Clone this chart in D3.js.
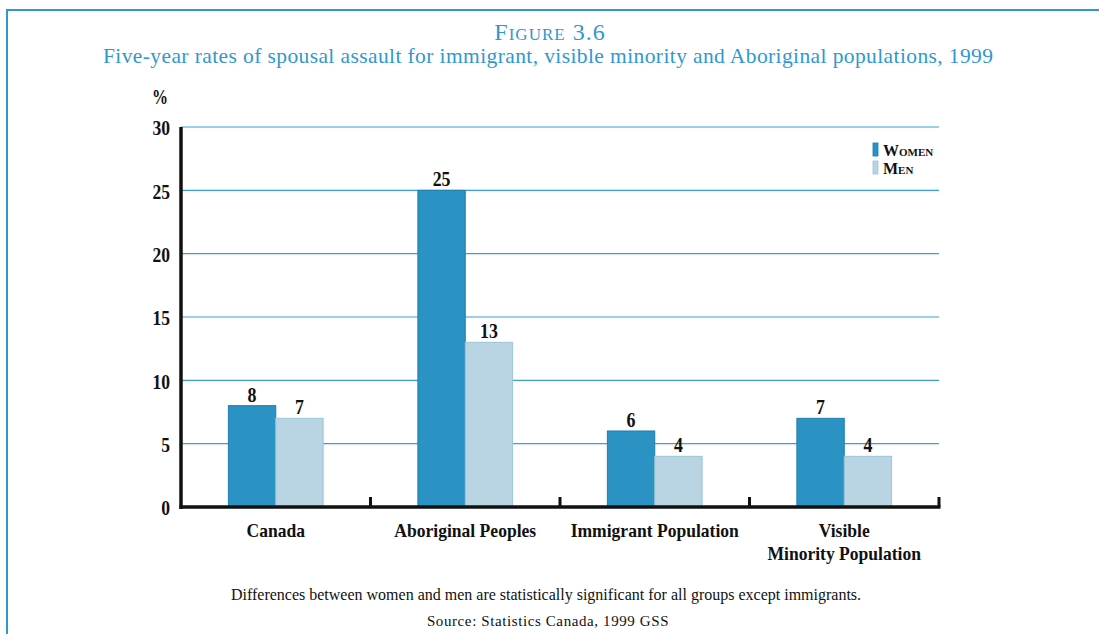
<!DOCTYPE html>
<html>
<head>
<meta charset="utf-8">
<script src="https://cdn.jsdelivr.net/npm/d3@7"></script>
</head>
<body style="margin:0">
<svg id="chart" width="1099" height="634"></svg>
<script>
// ---- data ----
const categories = ["Canada", "Aboriginal Peoples", "Immigrant Population", "Visible Minority Population"];
const categoryLines = [["Canada"], ["Aboriginal Peoples"], ["Immigrant Population"], ["Visible", "Minority Population"]];
const seriesNames = ["Women", "Men"];
const women = [8, 25, 6, 7];
const men = [7, 13, 4, 4];
const yTicks = [0, 5, 10, 15, 20, 25, 30];

const titleText = "Figure 3.6";
const subtitleText = "Five-year rates of spousal assault for immigrant, visible minority and Aboriginal populations, 1999";
const noteText = "Differences between women and men are statistically significant for all groups except immigrants.";
const sourceText = "Source: Statistics Canada, 1999 GSS";

// ---- layout / style ----
const W = 1099, H = 634;
const plot = { left: 181, right: 939, top: 127, bottom: 507 };
const blue = "#2f98cf";
const colors = { Women: "#2b93c3", Men: "#b9d5e4" };
const strokes = { Women: "#1d7fb0", Men: "#9cc3d8" };
const serif = "Liberation Serif";

// horizontally condense text to mimic the condensed bold face of the original
function condense(sel, f) {
  sel.each(function () {
    const L = this.getComputedTextLength();
    d3.select(this).attr("textLength", L * f).attr("lengthAdjust", "spacingAndGlyphs");
  });
}

const svg = d3.select("#chart");
svg.append("rect").attr("width", W).attr("height", H).attr("fill", "#fff");

// frame
svg.append("path")
  .attr("d", `M7,${H + 5} L7,10 L${W + 5},10`)
  .attr("fill", "none").attr("stroke", blue).attr("stroke-width", 2);

// title
svg.append("text")
  .attr("x", 550).attr("y", 40).attr("text-anchor", "middle")
  .style("font-family", serif).style("font-size", "24px")
  .style("font-variant", "small-caps").style("letter-spacing", "1px")
  .style("fill", blue).text(titleText);

const sub = svg.append("text")
  .attr("x", 548).attr("y", 63).attr("text-anchor", "middle")
  .style("font-family", serif).style("font-size", "21.5px")
  .style("fill", blue).text(subtitleText);
sub.attr("textLength", 890).attr("lengthAdjust", "spacing");

// scales
const x0 = d3.scaleBand().domain(categories).range([plot.left, plot.right]).paddingInner(0).paddingOuter(0);
const x1 = d3.scaleBand().domain(seriesNames).range([0, x0.bandwidth()]).paddingInner(0).paddingOuter(1);
const y = d3.scaleLinear().domain([0, 30]).range([plot.bottom, plot.top]);

// gridlines
svg.append("g").selectAll("line").data(yTicks.filter(d => d > 0)).join("line")
  .attr("x1", plot.left).attr("x2", plot.right)
  .attr("y1", d => y(d)).attr("y2", d => y(d))
  .attr("stroke", "#3a9fd2").attr("stroke-width", 1.2);

// y axis labels
const yAxis = d3.axisLeft(y).tickValues(yTicks).tickSize(0).tickPadding(11);
const gy = svg.append("g").attr("transform", `translate(${plot.left},0)`).call(yAxis);
gy.attr("font-family", null).attr("font-size", null);
gy.select(".domain").remove();
gy.selectAll("text")
  .style("font-family", serif).style("font-size", "22px").style("font-weight", "bold")
  .style("fill", "#111").attr("dy", "0.35em");
condense(gy.selectAll("text"), 0.8);

const pct = svg.append("text")
  .attr("x", 160).attr("y", 104).attr("text-anchor", "middle")
  .style("font-family", serif).style("font-size", "20px").style("font-weight", "bold")
  .style("fill", "#111").text("%");
condense(pct, 0.8);

// bars
const rows = categories.map((c, i) => ({ cat: c, vals: [
  { s: "Women", v: women[i] }, { s: "Men", v: men[i] }] }));

const groups = svg.append("g").selectAll("g").data(rows).join("g")
  .attr("transform", d => `translate(${x0(d.cat)},0)`);

groups.selectAll("rect").data(d => d.vals).join("rect")
  .attr("x", d => x1(d.s))
  .attr("width", x1.bandwidth())
  .attr("y", d => y(d.v))
  .attr("height", d => y(0) - y(d.v))
  .attr("fill", d => colors[d.s])
  .attr("stroke", d => strokes[d.s]).attr("stroke-width", 1);

const vals = groups.selectAll("text.val").data(d => d.vals).join("text")
  .attr("class", "val")
  .attr("x", d => x1(d.s) + x1.bandwidth() / 2)
  .attr("y", d => y(d.v) - 4)
  .attr("text-anchor", "middle")
  .style("font-family", serif).style("font-size", "21px").style("font-weight", "bold")
  .style("fill", "#111").text(d => d.v);
condense(vals, 0.85);

// axes lines
svg.append("line")
  .attr("x1", plot.left).attr("x2", plot.left)
  .attr("y1", plot.top).attr("y2", plot.bottom + 2)
  .attr("stroke", "#111").attr("stroke-width", 3.5);
svg.append("line")
  .attr("x1", plot.left - 1.5).attr("x2", plot.right + 1.5)
  .attr("y1", plot.bottom).attr("y2", plot.bottom)
  .attr("stroke", "#111").attr("stroke-width", 3.5);

// x ticks at band boundaries
const boundaries = categories.map(c => x0(c) + x0.bandwidth());
svg.append("g").selectAll("line").data(boundaries).join("line")
  .attr("x1", d => d).attr("x2", d => d)
  .attr("y1", plot.bottom).attr("y2", plot.bottom - 10)
  .attr("stroke", "#111").attr("stroke-width", 3);

// category labels
const catG = svg.append("g");
categories.forEach((c, i) => {
  categoryLines[i].forEach((line, j) => {
    catG.append("text")
      .attr("x", x0(c) + x0.bandwidth() / 2).attr("y", 537 + j * 23)
      .attr("text-anchor", "middle")
      .style("font-family", serif).style("font-size", "19.5px").style("font-weight", "bold")
      .style("fill", "#111").text(line);
  });
});
condense(catG.selectAll("text"), 0.9);

// legend
const legend = svg.append("g");
seriesNames.forEach((s, i) => {
  legend.append("rect")
    .attr("x", 873).attr("y", 143 + i * 18).attr("width", 5).attr("height", 13)
    .attr("fill", colors[s]).attr("stroke", strokes[s]).attr("stroke-width", 0.8);
  legend.append("text")
    .attr("x", 883).attr("y", 156 + i * 18)
    .style("font-family", serif).style("font-size", "16px").style("font-weight", "bold")
    .style("font-variant", "small-caps")
    .style("fill", "#111").text(s);
});

// notes
svg.append("text")
  .attr("x", 546).attr("y", 600).attr("text-anchor", "middle")
  .style("font-family", serif).style("font-size", "16px")
  .style("fill", "#111").text(noteText);
svg.append("text")
  .attr("x", 548).attr("y", 626).attr("text-anchor", "middle")
  .style("font-family", serif).style("font-size", "15px").style("letter-spacing", "0.6px")
  .style("fill", "#111").text(sourceText);
</script>
</body>
</html>
